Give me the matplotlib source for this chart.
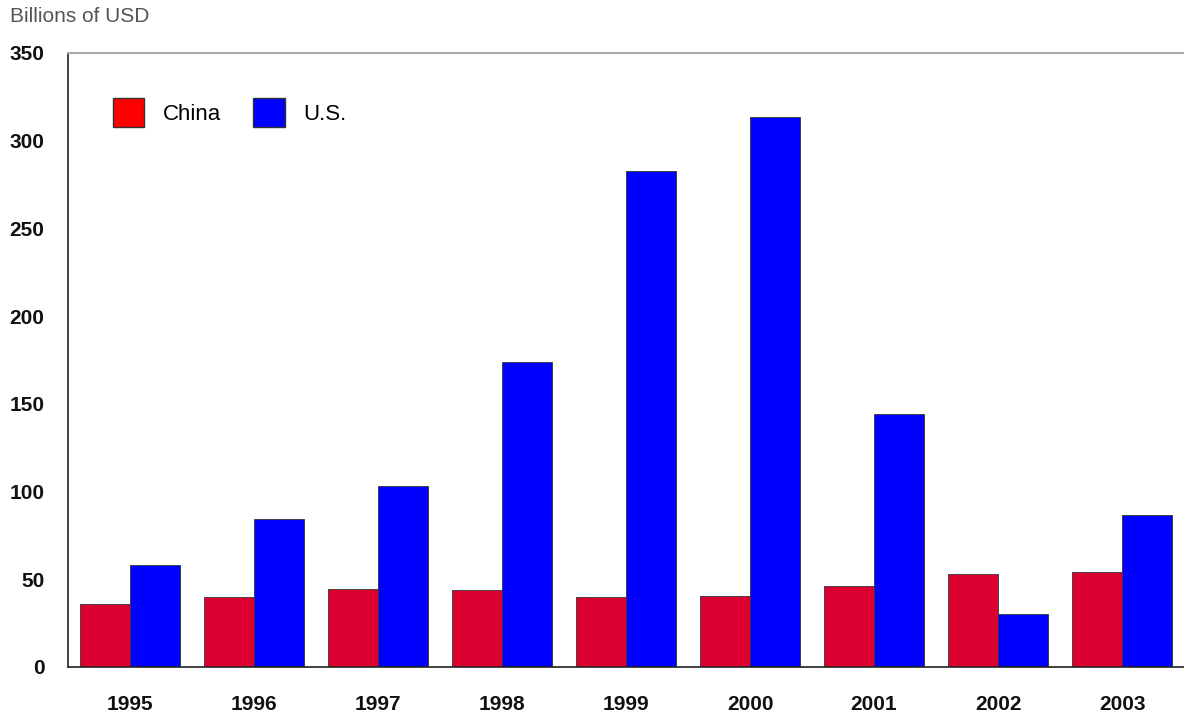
import matplotlib
matplotlib.use('Agg')
import matplotlib.pyplot as plt
import numpy as np
from matplotlib.patches import Patch

years = ['1995', '1996', '1997', '1998', '1999', '2000', '2001', '2002', '2003']
china = [36, 40, 44.5, 44, 40, 40.5, 46, 53, 54]
us = [58, 84.5, 103, 174, 283, 313.5, 144, 30, 86.5]

plt.rcParams['font.family'] = ['Liberation Sans', 'DejaVu Sans']

fig = plt.figure(figsize=(11.84, 7.17), dpi=100)
ax = fig.add_axes([68 / 1184, 50 / 717, 1 - 68 / 1184, 614 / 717])

x = np.arange(len(years))
w = 0.4
ax.bar(x - w / 2, china, w, color='#DC0030', edgecolor='#333333', linewidth=0.6)
ax.bar(x + w / 2, us, w, color='#0000FF', edgecolor='#333333', linewidth=0.6)

ax.set_xlim(-0.5, len(years) - 0.5)
ax.set_ylim(0, 350)
ax.set_yticks(range(0, 351, 50))
ax.set_xticks(x)
ax.set_xticklabels(years)
ax.tick_params(axis='both', length=0, labelsize=15)
ax.tick_params(axis='y', pad=17)
ax.tick_params(axis='x', pad=20)
for lab in ax.get_xticklabels() + ax.get_yticklabels():
    lab.set_fontweight('bold')
    lab.set_color('#111111')

ax.spines['right'].set_visible(False)
ax.spines['top'].set_color('#aaaaaa')
ax.spines['top'].set_linewidth(1.5)
ax.spines['left'].set_color('#222222')
ax.spines['bottom'].set_color('#222222')
ax.spines['left'].set_linewidth(1.2)
ax.spines['bottom'].set_linewidth(1.2)

handles = [Patch(facecolor='#FF0000', edgecolor='#333333', label='China'),
           Patch(facecolor='#0000FF', edgecolor='#333333', label='U.S.')]
ax.legend(handles=handles, loc='upper left', ncol=2, frameon=False, fontsize=16,
          handlelength=1.4, handleheight=1.65, handletextpad=0.85, columnspacing=1.45,
          borderpad=0, borderaxespad=0, bbox_to_anchor=(45 / 1116, 1 - 45 / 614))

fig.text(10 / 1184, 1 - 17 / 717, 'Billions of USD', fontsize=15, color='#555555', va='center')

fig.savefig('out.png', dpi=100)
